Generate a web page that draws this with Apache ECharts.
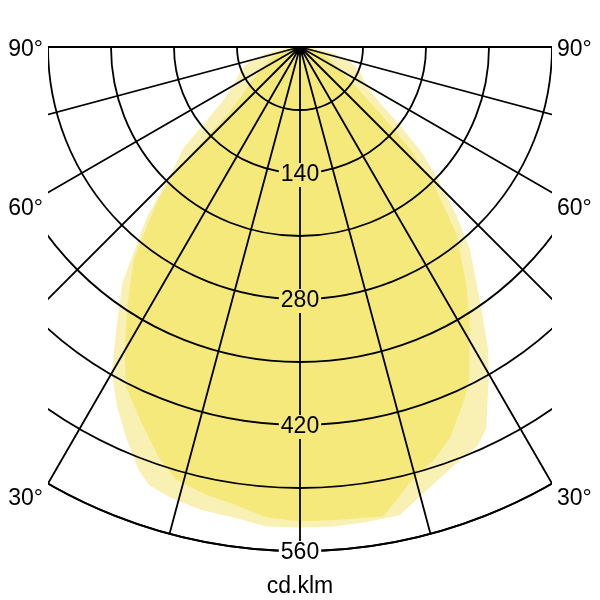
<!DOCTYPE html>
<html><head><meta charset="utf-8">
<script src="https://cdn.jsdelivr.net/npm/echarts@6/dist/echarts.min.js"></script>
<style>html,body{margin:0;padding:0;background:#fff}#c{width:600px;height:600px}</style>
</head><body><div id="c"></div>
<script>
const radiusTicks = [140, 280, 420, 560];
const angleLabels = ['90°', '60°', '30°'];
const unitLabel = 'cd.klm';

// light (outer) distribution, angle in degrees (negative = left half), value in cd/klm
const lightAngles = [-90, -85, -80, -75, -70, -65, -60, -55, -52, -49, -46, -42, -37, -33, -30, -27, -24, -21, -19, -16, -12, -8, -4, 0,
                     4, 8, 12, 16, 20, 24, 26, 28, 30, 32, 35, 40, 43, 46, 49, 52, 55, 60, 65, 70, 75, 80, 85, 90];
const lightValues = [0, 15, 35, 55, 68, 76, 85, 105, 130, 172, 196, 254, 328, 375, 418, 448, 475, 502, 515, 521, 526, 528, 534, 534,
                     534, 533, 532, 512, 496, 485, 472, 444, 420, 394, 350, 294, 254, 215, 180, 140, 108, 85, 76, 68, 55, 35, 15, 0];

// dark (inner) distribution
const darkAngles = [-90, -80, -70, -64, -58, -54, -50, -47, -46, -45, -43, -41, -38, -34, -30, -27, -23, -19, -16, -12, -8, -4, 0,
                    4, 8, 10, 12, 14, 18, 21, 25, 27, 29, 32, 35, 40, 44, 47, 50, 54, 58, 64, 70, 80, 90];
const darkValues = [0, 18, 32, 41, 55, 68, 85, 110, 150, 195, 230, 255, 300, 342, 390, 425, 452, 482, 500, 508, 514, 524, 527,
                    527, 528, 530, 515, 500, 482, 465, 432, 414, 388, 355, 322, 270, 215, 170, 120, 80, 58, 41, 32, 18, 0];

const LIGHT = '#f8f1b3';
const DARK = '#f4e97a';
const FONT = '"Liberation Sans", Arial, sans-serif';

function shapeSeries(angles, values, color, z) {
  return {
    type: 'custom', coordinateSystem: 'polar', silent: true, z: z,
    data: angles.map((a, i) => [values[i], a]),
    renderItem: function (params, api) {
      if (params.dataIndex !== 0) return null;
      const pts = angles.map((a, i) => api.coord([values[i], a]));
      return { type: 'polygon', shape: { points: pts }, style: { fill: color } };
    }
  };
}

const chart = echarts.init(document.getElementById('c'), null, { renderer: 'canvas' });
const lineStyle = { color: '#000', width: 1.8 };

const degY = [50, 209, 499];
const graphics = [
  { type: 'rect', z: 100, shape: { x: 0, y: 0, width: 48, height: 600 }, style: { fill: '#fff' } },
  { type: 'rect', z: 100, shape: { x: 552, y: 0, width: 48, height: 600 }, style: { fill: '#fff' } }
];
angleLabels.forEach((t, i) => {
  graphics.push({ type: 'text', z: 101, style: { text: t, x: 43, y: degY[i], align: 'right', verticalAlign: 'middle', font: '23px ' + FONT, fill: '#000' } });
  graphics.push({ type: 'text', z: 101, style: { text: t, x: 557, y: degY[i], align: 'left', verticalAlign: 'middle', font: '23px ' + FONT, fill: '#000' } });
});
graphics.push({ type: 'text', z: 101, style: { text: unitLabel, x: 300, y: 587, align: 'center', verticalAlign: 'middle', font: '23px ' + FONT, fill: '#000' } });

chart.setOption({
  animation: false,
  backgroundColor: '#fff',
  polar: { center: [300, 47], radius: 504 },
  angleAxis: {
    type: 'value', min: -90, max: 90, interval: 15,
    startAngle: 180, endAngle: 360, clockwise: false, z: 5,
    axisLine: { show: true, lineStyle: lineStyle },
    axisTick: { show: false }, axisLabel: { show: false },
    splitLine: { show: true, lineStyle: lineStyle }
  },
  radiusAxis: {
    type: 'value', min: 0, max: 560, interval: 70, z: 5,
    axisLine: { show: false }, axisTick: { show: false }, axisLabel: { show: false },
    splitLine: { show: true, lineStyle: lineStyle }
  },
  series: [
    shapeSeries(lightAngles, lightValues, LIGHT, 1),
    shapeSeries(darkAngles, darkValues, DARK, 2),
    {
      type: 'scatter', coordinateSystem: 'polar', z: 10, symbolSize: 0, silent: true,
      itemStyle: { color: '#000', opacity: 1 },
      data: radiusTicks.map((v, i) => ({
        value: [v, 0],
        label: { color: '#000', opacity: 1, backgroundColor: i === radiusTicks.length - 1 ? '#fff' : DARK }
      })),
      label: { show: true, position: 'inside', offset: [0, 2], formatter: p => String(p.value[0]), color: '#000', opacity: 1,
               textBorderWidth: 0, fontSize: 23, fontFamily: FONT, padding: [1, 2, 0, 2] }
    }
  ],
  graphic: graphics
});
</script></body></html>
